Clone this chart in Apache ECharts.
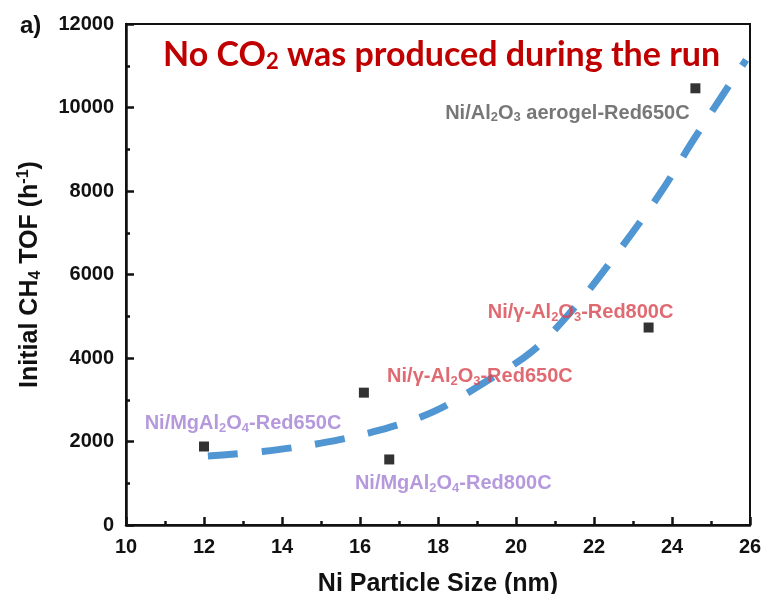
<!DOCTYPE html>
<html>
<head>
<meta charset="utf-8">
<script src="https://cdn.jsdelivr.net/npm/echarts@6/dist/echarts.min.js"></script>
<style>
  html, body { margin: 0; padding: 0; background: #fff; }
  #chart { width: 763px; height: 594px; }
</style>
</head>
<body>
<div id="chart"></div>
<script>
// Catalyst particle size (nm) and initial CH4 turnover frequency (h^-1)
const particleSize = [12.0, 16.1, 16.75, 23.4, 24.6];
const initialTof = [1880, 3170, 1570, 4730, 10460];
const catalystNames = [
  'Ni/MgAl{s|2}O{s|4}-Red650C',
  'Ni/γ-Al{s|2}O{s|3}-Red650C',
  'Ni/MgAl{s|2}O{s|4}-Red800C',
  'Ni/γ-Al{s|2}O{s|3}-Red800C',
  'Ni/Al{s|2}O{s|3} aerogel-Red650C'
];

// Trend line through the points (dashed guide)
const trendSize = [12.1, 13.5, 15.0, 16.5, 17.9, 19.2, 20.4, 21.4, 22.4, 23.7, 24.5, 25.3, 25.9];
const trendTof = [1650, 1760, 1960, 2270, 2720, 3420, 4150, 5100, 6270, 7950, 9150, 10300, 11140];

// Axis ticks
const xTicks = [10, 12, 14, 16, 18, 20, 22, 24, 26];
const yTicks = [0, 2000, 4000, 6000, 8000, 10000, 12000];

// Label look per catalyst (colour family and placement around the point)
const labelColors = ['#a27fd3', '#d8454f', '#a27fd3', '#d8454f', '#555555'];
const labelOffsets = [[39, -23], [116, -16], [64, 24], [-68, -15], [-128, 25]];

const labelFont = 'Liberation Sans, Arial, sans-serif';

function subRich(color) {
  return {
    n: { color: color, fontFamily: labelFont, fontWeight: 'bold', fontSize: 20, lineHeight: 22, verticalAlign: 'middle' },
    s: { color: color, fontFamily: labelFont, fontWeight: 'bold', fontSize: 13, lineHeight: 13, verticalAlign: 'bottom' }
  };
}

const pointData = particleSize.map((x, i) => ({
  value: [x, initialTof[i]],
  label: {
    show: true,
    position: 'inside',
    offset: labelOffsets[i],
    formatter: '{n|' + catalystNames[i].replace(/\{s\|(\d)\}/g, '}{s|$1}{n|') + '}',
    rich: subRich(labelColors[i])
  }
}));

const trendData = trendSize.map((x, i) => [x, trendTof[i]]);

const chart = echarts.init(document.getElementById('chart'));
chart.setOption({
  backgroundColor: '#ffffff',
  animation: false,
  title: {
    text: '{a|No CO}{b|2}{a| was produced during the run}',
    left: 158,
    top: 32,
    textStyle: {
      rich: {
        a: { color: '#c00000', fontFamily: 'Lato, sans-serif', fontWeight: 'bold', fontSize: 34, lineHeight: 36, verticalAlign: 'middle' },
        b: { color: '#c00000', fontFamily: 'Lato, sans-serif', fontWeight: 'bold', fontSize: 22, lineHeight: 20, verticalAlign: 'bottom' }
      }
    }
  },
  graphic: [{
    type: 'text',
    left: 20,
    top: 14,
    style: { text: 'a)', font: 'bold 24px Liberation Sans, Arial, sans-serif', fill: '#111' }
  }],
  grid: {
    left: 126, right: 13, top: 24, bottom: 69,
    outerBoundsMode: 'none',
    containLabel: false,
    show: true, borderColor: '#111', borderWidth: 2, backgroundColor: 'transparent'
  },
  xAxis: {
    type: 'value',
    min: xTicks[0], max: xTicks[xTicks.length - 1], interval: 2,
    name: 'Ni Particle Size (nm)',
    nameLocation: 'middle',
    nameGap: 47,
    nameTextStyle: { color: '#111', fontFamily: labelFont, fontWeight: 'bold', fontSize: 25 },
    axisLine: { show: true, onZero: false, lineStyle: { color: '#111', width: 2.5 } },
    axisTick: { show: true, inside: true, length: 8, lineStyle: { color: '#111', width: 2.5 } },
    minorTick: { show: true, splitNumber: 2, length: 4, lineStyle: { color: '#111', width: 2.5 } },
    splitLine: { show: false },
    axisLabel: { color: '#111', fontFamily: labelFont, fontWeight: 'bold', fontSize: 20, margin: 12 }
  },
  yAxis: {
    type: 'value',
    min: yTicks[0], max: yTicks[yTicks.length - 1], interval: 2000,
    name: '{n|Initial CH}{s|4}{n| TOF (h}{p|-1}{n|)}',
    nameLocation: 'middle',
    nameGap: 82,
    nameRotate: 90,
    nameTextStyle: {
      rich: {
        n: { color: '#111', fontFamily: labelFont, fontWeight: 'bold', fontSize: 25, lineHeight: 28, verticalAlign: 'middle' },
        s: { color: '#111', fontFamily: labelFont, fontWeight: 'bold', fontSize: 16, lineHeight: 16, verticalAlign: 'bottom' },
        p: { color: '#111', fontFamily: labelFont, fontWeight: 'bold', fontSize: 16, lineHeight: 16, verticalAlign: 'top' }
      }
    },
    axisLine: { show: true, onZero: false, lineStyle: { color: '#111', width: 2.5 } },
    axisTick: { show: true, inside: true, length: 8, lineStyle: { color: '#111', width: 2.5 } },
    minorTick: { show: true, splitNumber: 2, length: 4, lineStyle: { color: '#111', width: 2.5 } },
    splitLine: { show: false },
    axisLabel: {
      color: '#111', fontFamily: labelFont, fontWeight: 'bold', fontSize: 20, margin: 12,
      formatter: v => String(v)
    }
  },
  series: [
    {
      type: 'line',
      data: trendData,
      smooth: 0.35,
      showSymbol: false,
      symbol: 'none',
      z: 2,
      lineStyle: { color: '#5096d2', width: 7, type: [30, 24], cap: 'butt' }
    },
    {
      type: 'scatter',
      data: pointData,
      symbol: 'rect',
      symbolSize: 10,
      z: 3,
      itemStyle: { color: '#000' }
    }
  ]
});
</script>
</body>
</html>
